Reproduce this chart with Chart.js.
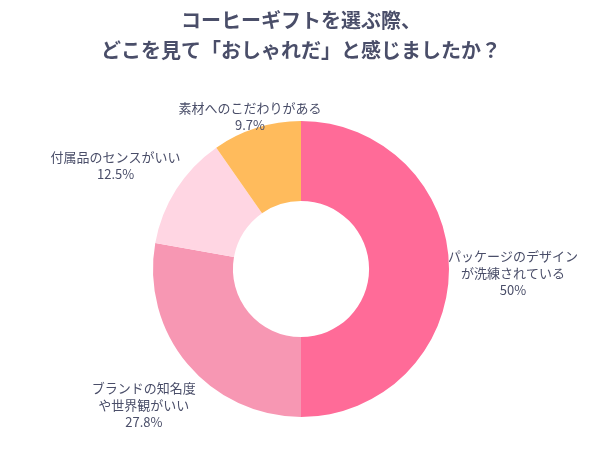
<!DOCTYPE html>
<html><head><meta charset="utf-8">
<script src="https://cdn.jsdelivr.net/npm/chart.js@4"></script>
<style>html,body{margin:0;background:#fff}#wrap{width:602px;height:451px}</style>
</head><body><div id="wrap"><canvas id="c"></canvas></div>
<script>
const titleLines = ['コーヒーギフトを選ぶ際、', 'どこを見て「おしゃれだ」と感じましたか？'];
const labels = [['パッケージのデザイン', 'が洗練されている'], ['ブランドの知名度', 'や世界観がいい'], ['付属品のセンスがいい'], ['素材へのこだわりがある']];
const values = [50, 27.8, 12.5, 9.7];
const colors = ['#FF6B98', '#F797B3', '#FFD6E3', '#FFBB5C'];
const textColor = '#4a4e69';
const font = '"Noto Sans CJK JP", sans-serif';

// draws the title and the outside labels
const labelPlugin = {
    id: 'labels',
    afterDraw(chart) {
        const ctx = chart.ctx;
        ctx.save();
        ctx.fillStyle = textColor;
        ctx.textAlign = 'center';
        ctx.textBaseline = 'middle';
        ctx.font = 'bold 20px ' + font;
        ctx.fillText(titleLines[0], 301, 20);
        ctx.fillText(titleLines[1], 301, 50);

        ctx.font = '13px ' + font;
        const dist = [212, 205, 220, 170];
        const yOff = [4, 4, 15, 10];
        chart.getDatasetMeta(0).data.forEach((arc, i) => {
            const mid = (arc.startAngle + arc.endAngle) / 2;
            const cx = arc.x + Math.cos(mid) * dist[i];
            const cy = arc.y + Math.sin(mid) * dist[i] + yOff[i];
            const lines = labels[i].concat([values[i] + '%']);
            const lh = 17;
            lines.forEach((t, k) => {
                ctx.fillText(t, cx, cy + (k - (lines.length - 1) / 2) * lh);
            });
        });
        ctx.restore();
    }
};

new Chart(document.getElementById('c'), {
    type: 'doughnut',
    data: {
        labels: labels.map(l => l.join('')),
        datasets: [{ data: values, backgroundColor: colors, borderWidth: 0 }]
    },
    options: {
        responsive: true,
        maintainAspectRatio: false,
        animation: false,
        cutout: '46%',
        layout: { padding: { top: 121, bottom: 34, left: 0, right: 0 } },
        plugins: { legend: { display: false }, tooltip: { enabled: false } }
    },
    plugins: [labelPlugin]
});
</script></body></html>
